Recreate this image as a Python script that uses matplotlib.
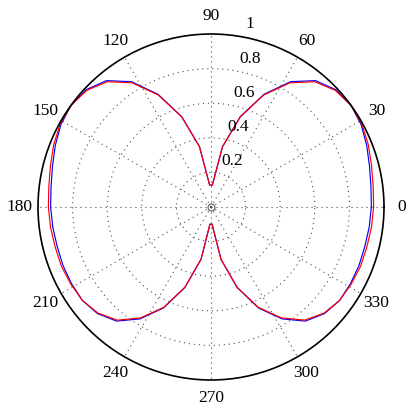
import numpy as np
import matplotlib
matplotlib.use("Agg")
import matplotlib.pyplot as plt

plt.rcParams['font.family'] = ['Liberation Serif', 'DejaVu Serif']

# sampling angles (deg), 51 samples over the full turn
theta_deg = np.linspace(0, 360, 51)

# normalised pattern
red_r = [0.94, 0.945, 0.958, 0.978, 0.995, 1.0, 0.985, 0.94, 0.85, 0.715, 0.548, 0.355, 0.127,
         0.127, 0.355, 0.548, 0.715, 0.85, 0.94, 0.985, 1.0, 0.995, 0.978, 0.958, 0.945, 0.94,
         0.935, 0.93, 0.93, 0.925, 0.919, 0.896, 0.849, 0.759, 0.641, 0.487, 0.308, 0.10,
         0.10, 0.308, 0.487, 0.641, 0.759, 0.849, 0.896, 0.919, 0.925, 0.93, 0.93, 0.935, 0.94]
blue_r = [0.927, 0.932, 0.946, 0.968, 0.99, 1.0, 0.99, 0.948, 0.858, 0.72, 0.55, 0.355, 0.127,
          0.127, 0.355, 0.55, 0.72, 0.858, 0.948, 0.99, 1.0, 0.99, 0.968, 0.946, 0.932, 0.927,
          0.922, 0.918, 0.92, 0.92, 0.919, 0.9, 0.856, 0.766, 0.645, 0.49, 0.308, 0.10,
          0.10, 0.308, 0.49, 0.645, 0.766, 0.856, 0.9, 0.919, 0.92, 0.92, 0.918, 0.922, 0.927]

ring_vals = [0.2, 0.4, 0.6, 0.8, 1.0]
ring_labels = ['0.2', '0.4', '0.6', '0.8', '1']
angle_ticks = list(range(0, 360, 30))
angle_labels = [str(a) for a in angle_ticks]

fig = plt.figure(figsize=(4.15, 4.17), dpi=100)
ax = fig.add_axes([38 / 415, 37 / 417, 346 / 415, 346 / 417], projection='polar')

th = np.deg2rad(theta_deg)
ax.plot(th, blue_r, color='blue', lw=0.85, clip_on=False)
ax.plot(th, red_r, color='red', lw=0.85, clip_on=False)

ax.set_ylim(0, 1)
ax.set_rticks(ring_vals[:-1])
ax.set_yticklabels([])
ax.set_thetagrids(angle_ticks, [''] * len(angle_ticks))
ax.grid(True, color='0.3', linestyle=(0, (1, 3.5)), linewidth=0.8)
ax.spines['polar'].set_color('black')
ax.spines['polar'].set_linewidth(1.2)

# small circle at the origin
ax.plot([0], [0], marker='o', ms=5, mfc='none', mec='0.35', mew=0.8)

for a, lab in zip(angle_ticks, angle_labels):
    ax.text(np.deg2rad(a), 1.105, lab, ha='center', va='center', fontsize=12.5,
            clip_on=False)

for r, lab in zip(ring_vals, ring_labels):
    ax.annotate(lab, xy=(np.deg2rad(80), r), xytext=(3, 3), textcoords='offset points',
                ha='left', va='bottom', fontsize=12.5, annotation_clip=False)

fig.savefig('out.png', dpi=100)
